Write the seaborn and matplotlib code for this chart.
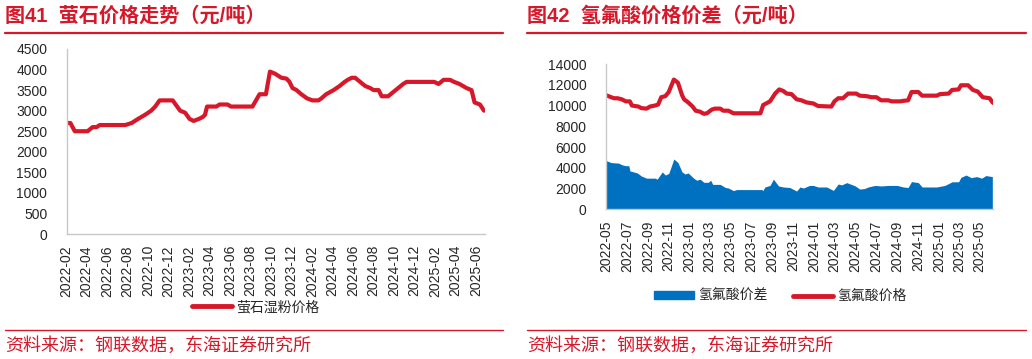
import pandas as pd
import matplotlib
matplotlib.use("Agg")
import matplotlib.pyplot as plt
import matplotlib.dates as mdates
from matplotlib.lines import Line2D
from matplotlib.patches import Patch
import seaborn as sns

# --- data ---
fluorite_dates = [
    "2022-02-01", "2022-02-12", "2022-02-25", "2022-04-04", "2022-04-19", "2022-05-01",
    "2022-05-10", "2022-07-25", "2022-08-13", "2022-09-01", "2022-09-22", "2022-10-10",
    "2022-10-22", "2022-11-04", "2022-12-13", "2023-01-04", "2023-01-19", "2023-02-01",
    "2023-02-13", "2023-03-01", "2023-03-13", "2023-03-19", "2023-03-25", "2023-04-22",
    "2023-05-01", "2023-05-25", "2023-06-04", "2023-08-07", "2023-08-28", "2023-09-16",
    "2023-09-28", "2023-10-13", "2023-11-01", "2023-11-16", "2023-11-25", "2023-12-04",
    "2023-12-16", "2023-12-30", "2024-01-16", "2024-02-01", "2024-02-19", "2024-02-28",
    "2024-03-13", "2024-04-04", "2024-04-22", "2024-05-07", "2024-05-16", "2024-05-28",
    "2024-06-07", "2024-06-22", "2024-07-07", "2024-07-22", "2024-08-01", "2024-08-16",
    "2024-08-25", "2024-09-13", "2024-09-28", "2024-10-13", "2024-10-28", "2024-11-07",
    "2025-01-28", "2025-02-10", "2025-02-25", "2025-03-16", "2025-03-28", "2025-04-13",
    "2025-05-04", "2025-05-19", "2025-05-28", "2025-06-13", "2025-06-25",
]
fluorite_price = [
    2700, 2700, 2500, 2500, 2600, 2600,
    2650, 2650, 2700, 2800, 2900, 3000,
    3100, 3250, 3250, 3000, 2950, 2800,
    2750, 2800, 2850, 2900, 3100, 3100,
    3150, 3150, 3100, 3100, 3400, 3400,
    3950, 3900, 3800, 3780, 3700, 3550,
    3500, 3400, 3300, 3250, 3250, 3300,
    3400, 3500, 3600, 3700, 3750, 3800,
    3800, 3700, 3600, 3550, 3500, 3500,
    3350, 3350, 3450, 3550, 3650, 3700,
    3700, 3650, 3750, 3750, 3700, 3650,
    3550, 3500, 3200, 3150, 3000,
]

hf_dates = [
    "2022-05-01", "2022-05-16", "2022-05-25", "2022-06-04", "2022-06-16", "2022-06-28",
    "2022-07-10", "2022-07-16", "2022-08-04", "2022-08-13", "2022-08-28", "2022-09-07",
    "2022-09-22", "2022-10-01", "2022-10-10", "2022-10-22", "2022-11-01", "2022-11-16",
    "2022-11-28", "2022-12-10", "2022-12-16", "2022-12-28", "2023-01-10", "2023-01-19",
    "2023-02-01", "2023-02-12", "2023-02-21", "2023-03-07", "2023-03-16", "2023-04-01",
    "2023-04-10", "2023-04-25", "2023-05-10", "2023-07-28", "2023-08-05", "2023-08-25",
    "2023-09-09", "2023-09-21", "2023-10-03", "2023-10-13", "2023-10-27", "2023-11-11",
    "2023-11-25", "2023-12-10", "2023-12-30", "2024-01-13", "2024-02-21", "2024-03-01",
    "2024-03-12", "2024-03-26", "2024-04-10", "2024-05-04", "2024-05-14", "2024-06-03",
    "2024-06-18", "2024-07-02", "2024-07-16", "2024-08-06", "2024-08-16", "2024-09-10",
    "2024-09-19", "2024-10-03", "2024-10-13", "2024-11-02", "2024-11-13", "2024-12-26",
    "2025-01-05", "2025-01-30", "2025-02-09", "2025-02-28", "2025-03-07", "2025-03-28",
    "2025-04-11", "2025-04-25", "2025-05-10", "2025-05-30", "2025-06-09",
]
hf_price = [
    11000, 10800, 10700, 10700, 10600, 10400,
    10400, 10000, 9900, 9750, 9700, 9900,
    10000, 10100, 10800, 10900, 11300, 12500,
    12200, 11000, 10600, 10300, 9900, 9500,
    9400, 9200, 9250, 9600, 9700, 9700,
    9500, 9500, 9250, 9250, 10050, 10400,
    11150, 11550, 11400, 11150, 11100, 10600,
    10500, 10300, 10200, 9950, 9900, 10400,
    10700, 10700, 11150, 11150, 10950, 10900,
    10800, 10800, 10500, 10500, 10400, 10400,
    10450, 10500, 11300, 11300, 10950, 10950,
    11100, 11150, 11500, 11550, 11950, 11950,
    11500, 11350, 10800, 10700, 10250,
]

spread_dates = [
    "2022-05-01", "2022-05-16", "2022-06-07", "2022-06-16", "2022-06-27", "2022-07-07",
    "2022-07-10", "2022-08-01", "2022-08-13", "2022-08-28", "2022-09-22", "2022-09-28",
    "2022-10-13", "2022-10-22", "2022-11-01", "2022-11-16", "2022-11-28", "2022-12-10",
    "2022-12-19", "2022-12-28", "2023-01-13", "2023-01-22", "2023-02-01", "2023-02-12",
    "2023-02-25", "2023-03-04", "2023-03-10", "2023-04-01", "2023-04-16", "2023-04-25",
    "2023-05-10", "2023-05-19", "2023-08-01", "2023-08-04", "2023-08-10", "2023-08-25",
    "2023-09-04", "2023-09-19", "2023-10-03", "2023-10-22", "2023-11-11", "2023-11-21",
    "2023-12-01", "2023-12-19", "2023-12-30", "2024-01-13", "2024-02-07", "2024-02-27",
    "2024-03-12", "2024-03-22", "2024-04-06", "2024-05-01", "2024-05-14", "2024-05-28",
    "2024-06-08", "2024-06-28", "2024-07-16", "2024-08-06", "2024-09-01", "2024-09-19",
    "2024-10-03", "2024-10-13", "2024-11-02", "2024-11-13", "2024-12-26", "2025-01-19",
    "2025-02-09", "2025-02-28", "2025-03-07", "2025-03-22", "2025-04-06", "2025-04-22",
    "2025-05-07", "2025-05-19", "2025-06-07",
]
spread_value = [
    4700, 4500, 4450, 4300, 4200, 4200,
    3700, 3500, 3200, 3000, 3000, 2900,
    3600, 3300, 3450, 4850, 4500, 3600,
    3400, 3500, 3000, 2800, 2900, 2600,
    2600, 2800, 2400, 2400, 2100, 2050,
    1800, 1900, 1900, 1800, 2150, 2300,
    2900, 2250, 2150, 2100, 1760, 2150,
    2050, 2300, 2300, 2150, 2150, 1820,
    2440, 2350, 2570, 2250, 1950, 2000,
    2150, 2300, 2250, 2300, 2300, 2150,
    2100, 2670, 2570, 2150, 2150, 2300,
    2650, 2650, 3080, 3300, 3050, 3150,
    3000, 3250, 3150,
]

left_title = "图41  萤石价格走势（元/吨）"
right_title = "图42  氢氟酸价格价差（元/吨）"
source_text = "资料来源：钢联数据，东海证券研究所"

fluor = pd.DataFrame({"date": pd.to_datetime(fluorite_dates), "price": fluorite_price})
hf = pd.DataFrame({"date": pd.to_datetime(hf_dates), "price": hf_price})
spread = pd.DataFrame({"date": pd.to_datetime(spread_dates), "value": spread_value})

RED = "#d7182a"
BLUE = "#0070c0"
GREY = "#c8c8c8"

sns.set_style("white")
plt.rcParams["font.family"] = ["Liberation Sans", "Noto Sans CJK SC"]
plt.rcParams["font.size"] = 10

fig = plt.figure(figsize=(10.32, 3.59), dpi=100)

W, H = 1032, 359


def box(x0, y0, x1, y1):
    return [x0 / W, 1 - y1 / H, (x1 - x0) / W, (y1 - y0) / H]


def style_axis(ax):
    for s in ["top", "right"]:
        ax.spines[s].set_visible(False)
    for s in ["left", "bottom"]:
        ax.spines[s].set_color(GREY)
        ax.spines[s].set_linewidth(1.0)
    ax.tick_params(axis="x", length=3, color=GREY, labelsize=10, rotation=90, pad=5)
    ax.tick_params(axis="y", length=3, color=GREY, labelsize=10, pad=11)
    ax.set_xlabel("")
    ax.set_ylabel("")
    ax.grid(False)


# --- left chart ---
ax1 = fig.add_axes(box(66.7, 49, 485, 234))
sns.lineplot(data=fluor, x="date", y="price", ax=ax1, color=RED, linewidth=3,
             legend=False)
ax1.set_ylim(0, 4500)
ax1.set_yticks(range(0, 4501, 500))
ax1.set_xlim(pd.Timestamp("2022-02-01"), pd.Timestamp("2025-06-28"))
ax1.xaxis.set_major_locator(mdates.MonthLocator(bymonth=[2, 4, 6, 8, 10, 12]))
ax1.xaxis.set_major_formatter(mdates.DateFormatter("%Y-%m"))
style_axis(ax1)
ax1.legend(handles=[Line2D([], [], color=RED, lw=3.5, label="萤石湿粉价格")],
           loc="center", bbox_to_anchor=((256 - 66.7) / (485 - 66.7), -(307 - 234) / 185),
           frameon=False, fontsize=10, handlelength=2.9, handletextpad=0.3)

# --- right chart ---
ax2 = fig.add_axes(box(606, 64, 993, 209.3))
ax2.fill_between(spread["date"], 0, spread["value"], color=BLUE, linewidth=0)
sns.lineplot(data=hf, x="date", y="price", ax=ax2, color=RED, linewidth=3,
             legend=False)
ax2.set_ylim(0, 14000)
ax2.set_yticks(range(0, 14001, 2000))
ax2.set_xlim(pd.Timestamp("2022-05-01"), pd.Timestamp("2025-06-09"))
ax2.xaxis.set_major_locator(mdates.MonthLocator(bymonth=[1, 3, 5, 7, 9, 11]))
ax2.xaxis.set_major_formatter(mdates.DateFormatter("%Y-%m"))
style_axis(ax2)
ax2.legend(handles=[Patch(color=BLUE, label="氢氟酸价差"),
                    Line2D([], [], color=RED, lw=3.5, label="氢氟酸价格")],
           loc="center", bbox_to_anchor=((780 - 606) / (993 - 606), -(296 - 209.3) / 145.3),
           ncol=2, frameon=False, fontsize=10, handlelength=2.9, handletextpad=0.3,
           columnspacing=1.8, handleheight=0.5)

# --- titles, rules and source notes ---
title_font = ["Liberation Sans", "Noto Sans CJK SC"]
for x0, x1, title in [(5, 503, left_title), (527, 1026, right_title)]:
    fig.text(x0 / W, 1 - 16 / H, title, color=RED, fontsize=14.5, fontweight="bold",
             va="center", ha="left", family=title_font)
    fig.add_artist(Line2D([x0 / W, x1 / W], [1 - 32.5 / H, 1 - 32.5 / H],
                          color=RED, lw=1.6))
    fig.add_artist(Line2D([x0 / W, x1 / W], [1 - 330 / H, 1 - 330 / H],
                          color=RED, lw=1.0))
    fig.text(x0 / W, 1 - 346 / H, source_text, color=RED, fontsize=13,
             va="center", ha="left", family=title_font)

fig.savefig("out.png", dpi=100)
